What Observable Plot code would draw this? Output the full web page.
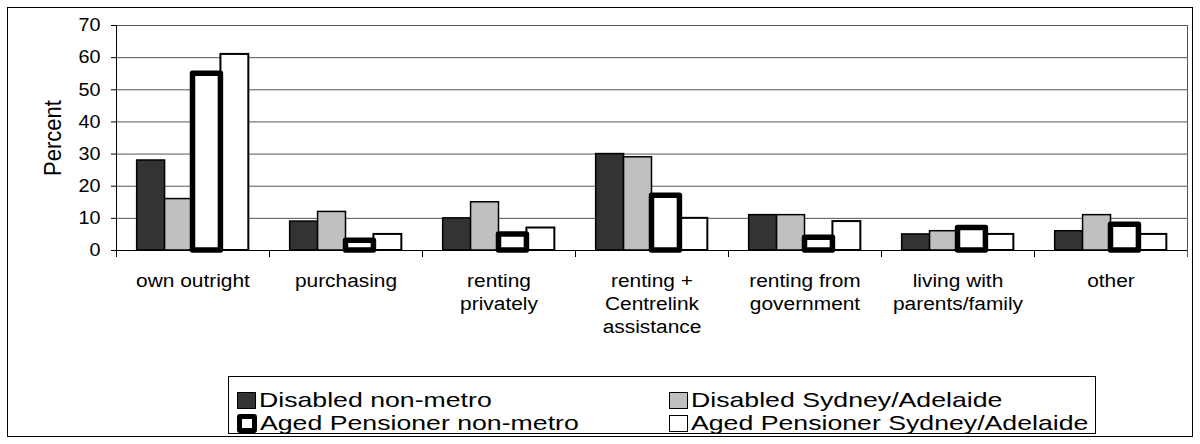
<!DOCTYPE html>
<html>
<head>
<meta charset="utf-8">
<script src="https://cdn.jsdelivr.net/npm/d3@7"></script>
<script src="https://cdn.jsdelivr.net/npm/@observablehq/plot@0.6"></script>
<style>
  html, body { margin: 0; padding: 0; background: #fff; }
  #wrap { position: relative; width: 1200px; height: 444px; overflow: hidden; background: #fff;
          font-family: "Liberation Sans", Arial, sans-serif; color: #000; }
  #outer { position: absolute; left: 7px; top: 7px; width: 1186px; height: 430px;
           border: 1px solid #000; box-sizing: border-box; pointer-events: none; }
  #chart { position: absolute; left: 0; top: 0; }
  #legend { position: absolute; left: 228px; top: 376px; width: 868px; height: 58px;
            border: 1px solid #000; box-sizing: border-box; background: #fff; }
  .item { position: absolute; height: 22px; display: flex; align-items: center; white-space: nowrap; }
  .sw { box-sizing: border-box; flex: none; }
  .lbl { font-size: 21px; line-height: 22px; margin-left: 3px; display: inline-block;
         transform: scaleX(1.27); transform-origin: left center; }
</style>
</head>
<body>
<div id="wrap">
  <div id="chart"></div>
  <div id="legend"></div>
  <div id="outer"></div>
</div>
<script>
// ---- data ----
const categories = ["own outright", "purchasing", "renting privately", "renting + Centrelink assistance",
                    "renting from government", "living with parents/family", "other"];
const categoryLabels = ["own outright", "purchasing", "renting\nprivately", "renting +\nCentrelink\nassistance",
                        "renting from\ngovernment", "living with\nparents/family", "other"];
const series = ["Disabled non-metro", "Disabled Sydney/Adelaide",
                "Aged Pensioner non-metro", "Aged Pensioner Sydney/Adelaide"];
const disabledNonMetro = [28, 9, 10, 30, 11, 5, 6];
const disabledSydneyAdelaide = [16, 12, 15, 29, 11, 6, 11];
const agedNonMetro = [55, 3, 5, 17, 4, 7, 8];
const agedSydneyAdelaide = [61, 5, 7, 10, 9, 5, 5];
const yTicks = [0, 10, 20, 30, 40, 50, 60, 70];

// ---- styles (kept separate from data) ----
const seriesStyle = {
  "Disabled non-metro": {fill: "#333333", stroke: "#000", strokeWidth: 1.5},
  "Disabled Sydney/Adelaide": {fill: "#c0c0c0", stroke: "#000", strokeWidth: 1.5},
  "Aged Pensioner Sydney/Adelaide": {fill: "#ffffff", stroke: "#000", strokeWidth: 2},
  "Aged Pensioner non-metro": {fill: "#ffffff", stroke: "#000", strokeWidth: 5.5, strokeLinejoin: "round"}
};
const drawOrder = ["Disabled non-metro", "Disabled Sydney/Adelaide",
                   "Aged Pensioner Sydney/Adelaide", "Aged Pensioner non-metro"];

const valuesBySeries = [disabledNonMetro, disabledSydneyAdelaide, agedNonMetro, agedSydneyAdelaide];
const rows = [];
categories.forEach((c, i) => series.forEach((s, j) => rows.push({category: c, series: s, value: valuesBySeries[j][i]})));
const labelOf = new Map(categories.map((c, i) => [c, categoryLabels[i]]));

const FONT = "'Liberation Sans', Arial, sans-serif";

const chart = Plot.plot({
  width: 1200,
  height: 444,
  marginLeft: 116,
  marginRight: 13,
  marginTop: 25,
  marginBottom: 194,
  style: {fontFamily: FONT, background: "transparent", color: "#000"},
  fx: {domain: categories, paddingInner: 0, paddingOuter: 0, round: false, label: null, axis: null},
  x: {domain: series, paddingInner: 0, paddingOuter: 0.74, round: false, axis: null},
  y: {domain: [0, 70], axis: null},
  marks: [
    Plot.gridY(yTicks, {stroke: "#555", strokeOpacity: 1, strokeWidth: 1}),
    ...drawOrder.map(s => Plot.barY(rows.filter(d => d.series === s), {
      fx: "category", x: "series", y: "value", inset: 0, ...seriesStyle[s]
    })),
    Plot.ruleY([0], {stroke: "#000", strokeWidth: 1}),
    Plot.frame({anchor: "left", facetAnchor: "left", stroke: "#000", insetBottom: -6}),
    Plot.frame({anchor: "right", facetAnchor: "right", stroke: "#555", insetBottom: -6}),
    Plot.frame({anchor: "left", stroke: "#000", insetTop: 225, insetBottom: -6}),
    Plot.axisY(yTicks, {anchor: "left", tickSize: 5, tickPadding: 11, fontSize: 18,
      label: "Percent", labelAnchor: "center", labelArrow: "none", labelOffset: 73}),
    Plot.axisFx({anchor: "bottom", tickSize: 0, tickPadding: 20, fontSize: 19, lineHeight: 1.21,
      tickFormat: d => labelOf.get(d)})
  ]
});

// slight horizontal stretch of the chart's text to match the reference's wide lettering
function stretch(t, sx, sy) {
  const tr = t.getAttribute("transform") || "";
  t.setAttribute("transform", (tr + ` scale(${sx},${sy})`).trim());
}
chart.querySelectorAll("g[aria-label$='tick label'] text").forEach(t => stretch(t, 1.1, 1));
chart.querySelectorAll("g[aria-label$='-axis label'] text").forEach(t => {
  t.setAttribute("font-size", "22");
  t.style.fontSize = "22px";
  stretch(t, 1, 1.1);
});
chart.querySelectorAll("text").forEach(t => t.setAttribute("fill", "#000"));
document.getElementById("chart").appendChild(chart);

// ---- legend ----
const legendPos = {
  "Disabled non-metro": [8, 12],
  "Disabled Sydney/Adelaide": [440, 12],
  "Aged Pensioner non-metro": [8, 35],
  "Aged Pensioner Sydney/Adelaide": [440, 35]
};
const swatchCss = {
  "Disabled non-metro": "width:19px;height:17px;background:#333;border:1.5px solid #000;",
  "Disabled Sydney/Adelaide": "width:19px;height:17px;background:#c0c0c0;border:1.5px solid #000;",
  "Aged Pensioner non-metro": "width:20px;height:19px;background:#fff;border:5.5px solid #000;border-radius:3px;",
  "Aged Pensioner Sydney/Adelaide": "width:19px;height:17px;background:#fff;border:1.5px solid #000;"
};
const legend = document.getElementById("legend");
series.forEach(s => {
  const it = document.createElement("div");
  it.className = "item";
  it.style.left = legendPos[s][0] + "px";
  it.style.top = legendPos[s][1] + "px";
  const sw = document.createElement("div");
  sw.className = "sw";
  sw.style.cssText = swatchCss[s];
  const lb = document.createElement("span");
  lb.className = "lbl";
  lb.textContent = s;
  it.appendChild(sw);
  it.appendChild(lb);
  legend.appendChild(it);
});
</script>
</body>
</html>
